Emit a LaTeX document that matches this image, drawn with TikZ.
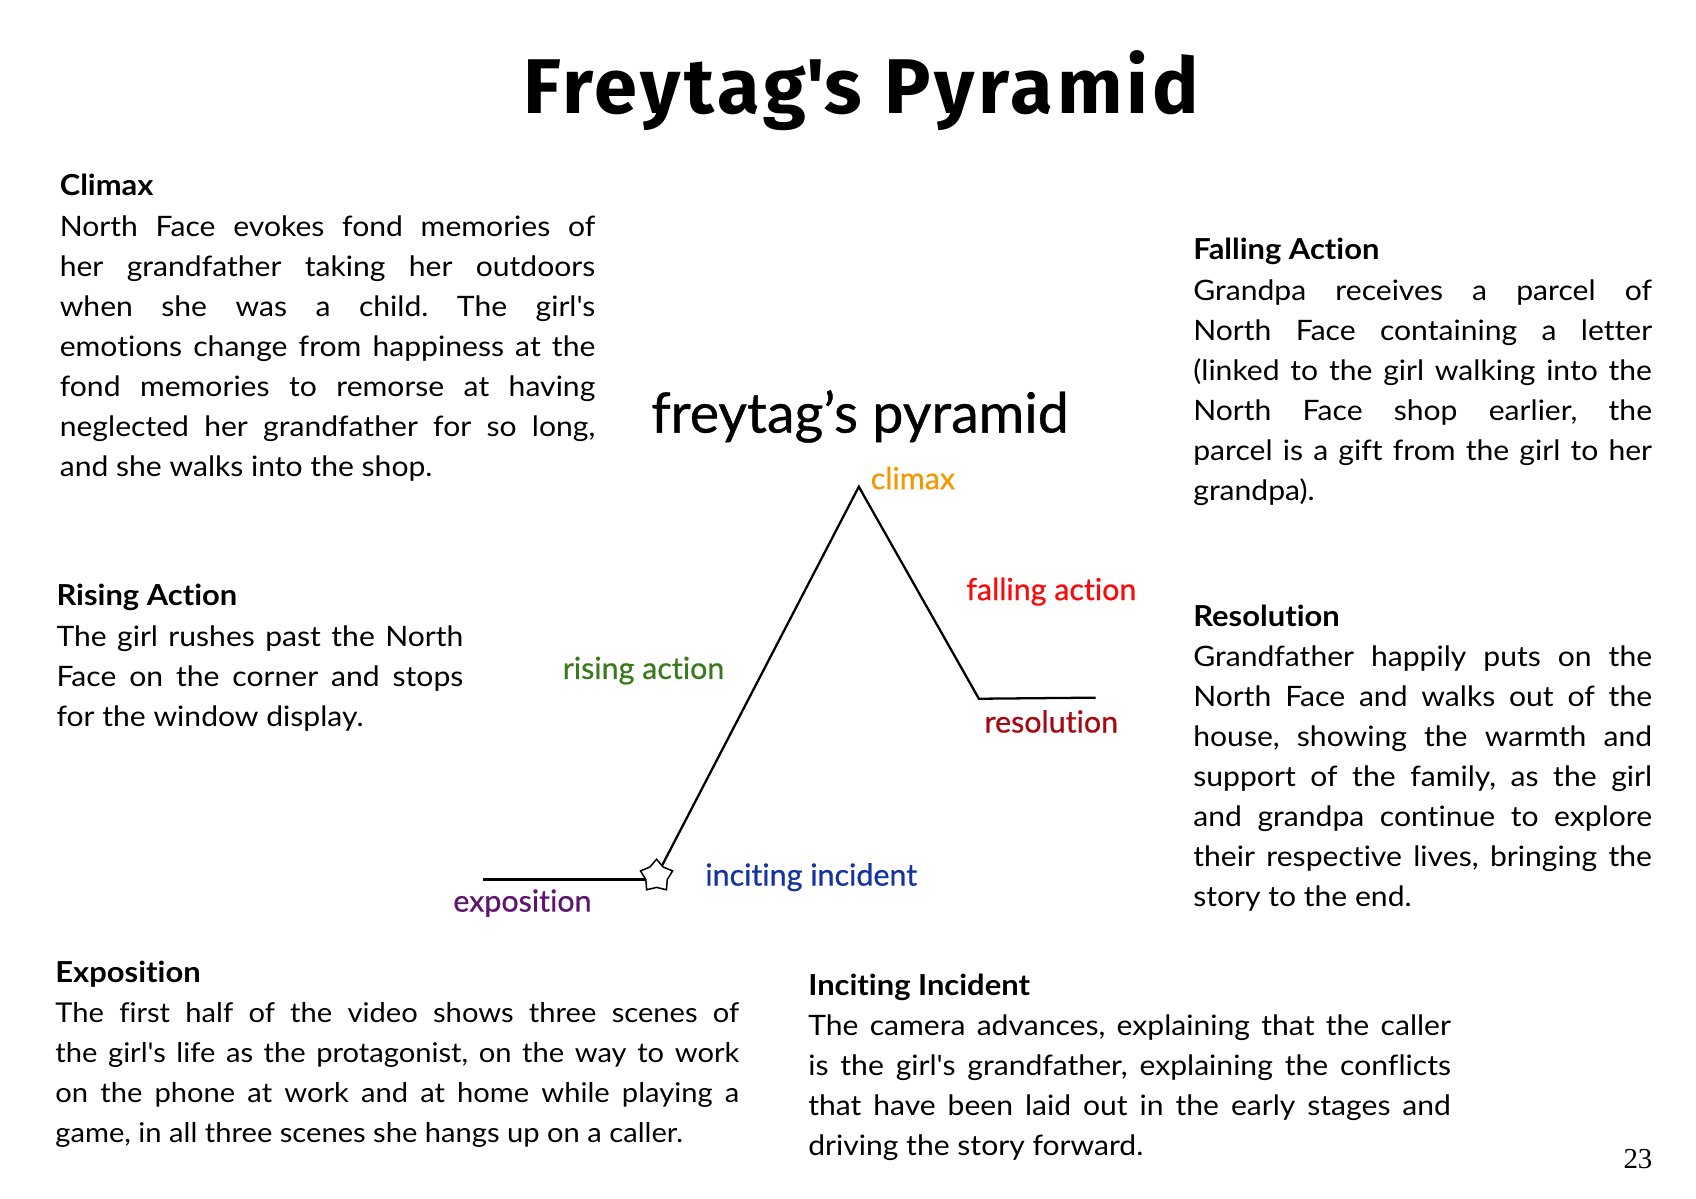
\documentclass[tikz,border=0pt]{standalone}
\usepackage{fontspec}
\setmainfont{Lato}[FakeStretch=1.07, Ligatures=NoCommon]
\newfontfamily\diagfont{Lato}[Ligatures=NoCommon, FakeBold=0.6]
\newfontfamily\titlefont{Fira Sans}[LetterSpace=5]
\newfontfamily\pagefont{Liberation Serif}
\usepackage{tikz}
\usetikzlibrary{positioning,shapes.geometric}
\definecolor{climaxcol}{RGB}{243,152,0}
\definecolor{fallingcol}{RGB}{250,10,10}
\definecolor{resolcol}{RGB}{165,10,20}
\definecolor{risingcol}{RGB}{60,120,30}
\definecolor{incitecol}{RGB}{20,50,160}
\definecolor{expocol}{RGB}{95,20,110}
\newcommand{\sq}{\textquotesingle}
\frenchspacing
\tikzstyle{heading} = [anchor=base west, inner sep=0pt, font=\fontsize{19}{26}\selectfont\bfseries]
\tikzstyle{para} = [anchor=north west, inner sep=0pt, align=justify, font=\fontsize{18.5}{26.3}\selectfont]
\tikzstyle{stage} = [inner sep=0pt, font=\fontsize{20}{24}\diagfont]
\tikzstyle{curve} = [line width=1.5pt, black]

\begin{document}
\begin{tikzpicture}[x=0.025cm,y=-0.025cm]
\useasboundingbox (0,0) rectangle (1568,1107.6);

\node (title) [inner sep=0pt, anchor=base, font=\fontsize{51}{56}\titlefont\bfseries] at (796,105) {Freytag\sq s Pyramid};

% text blocks
\node (climaxhead) [heading] at (55,181) {Climax};
\node (climaxtext) [para, text width=12.375cm, below=0.28cm of climaxhead.base west, anchor=north west]
  {\strut North Face evokes fond memories of\linebreak her grandfather taking her outdoors\linebreak when she was a child. The girl\sq s\linebreak emotions change from happiness at the\linebreak fond memories to remorse at having\linebreak neglected her grandfather for so long,\linebreak and she walks into the shop.};

\node (fallhead) [heading] at (1103,240) {Falling Action};
\node (falltext) [para, text width=10.6cm, below=0.28cm of fallhead.base west, anchor=north west]
  {\strut Grandpa receives a parcel of\linebreak North Face containing a letter\linebreak (linked to the girl walking into the\linebreak North Face shop earlier, the\linebreak parcel is a gift from the girl to her\linebreak grandpa).};

\node (risehead) [heading] at (52,560) {Rising Action};
\node (risetext) [para, text width=9.4cm, below=0.28cm of risehead.base west, anchor=north west]
  {\strut The girl rushes past the North\linebreak Face on the corner and stops\linebreak for the window display.};

\node (reshead) [heading] at (1103,579) {Resolution};
\node (restext) [para, text width=10.6cm, below=0.28cm of reshead.base west, anchor=north west]
  {\strut Grandfather happily puts on the\linebreak North Face and walks out of the\linebreak house, showing the warmth and\linebreak support of the family, as the girl\linebreak and grandpa continue to explore\linebreak their respective lives, bringing the\linebreak story to the end.};

\node (expohead) [heading] at (51,908) {Exposition};
\node (expotext) [para, text width=15.8cm, below=0.28cm of expohead.base west, anchor=north west, font=\fontsize{17.9}{26.3}\selectfont]
  {\strut The first half of the video shows three scenes of\linebreak the girl\sq s life as the protagonist, on the way to work\linebreak on the phone at work and at home while playing a\linebreak game, in all three scenes she hangs up on a caller.};

\node (incitehead) [heading] at (747,920) {Inciting Incident};
\node (incitetext) [para, text width=14.85cm, below=0.28cm of incitehead.base west, anchor=north west]
  {\strut The camera advances, explaining that the caller\linebreak is the girl\sq s grandfather, explaining the conflicts\linebreak that have been laid out in the early stages and\linebreak driving the story forward.};

\node (pagenum) [inner sep=0pt, anchor=base east, font=\fontsize{19}{22}\pagefont] at (1528,1080) {23};

% the pyramid
\node (pyrtitle) [inner sep=0pt, font=\fontsize{36.5}{42}\diagfont] at (795,385) {freytag’s pyramid};
\coordinate (expostart) at (447,813);
\coordinate (incite) at (607,810);
\coordinate (peak) at (794,450);
\coordinate (fallend) at (905,646);
\coordinate (resend) at (1013,645);

\draw [curve] (expostart) -- (expostart -| incite);
\draw [curve] (incite) -- (peak) -- (fallend) -- (resend);
\node (star) [star, star points=5, draw, line width=1pt, fill=white, minimum size=0.78cm, inner sep=0pt] at (incite) {};

\node (climaxlab) [stage, text=climaxcol] at (844,442) {climax};
\node (fallinglab) [stage, text=fallingcol] at (972,547) {falling action};
\node (resollab) [stage, text=resolcol] at (972,667) {resolution};
\node (risinglab) [stage, text=risingcol] at (595,620) {rising action};
\node (incitelab) [stage, text=incitecol] at (750,811) {inciting incident};
\node (expolab) [stage, text=expocol] at (483,835) {exposition};
\end{tikzpicture}
\end{document}
